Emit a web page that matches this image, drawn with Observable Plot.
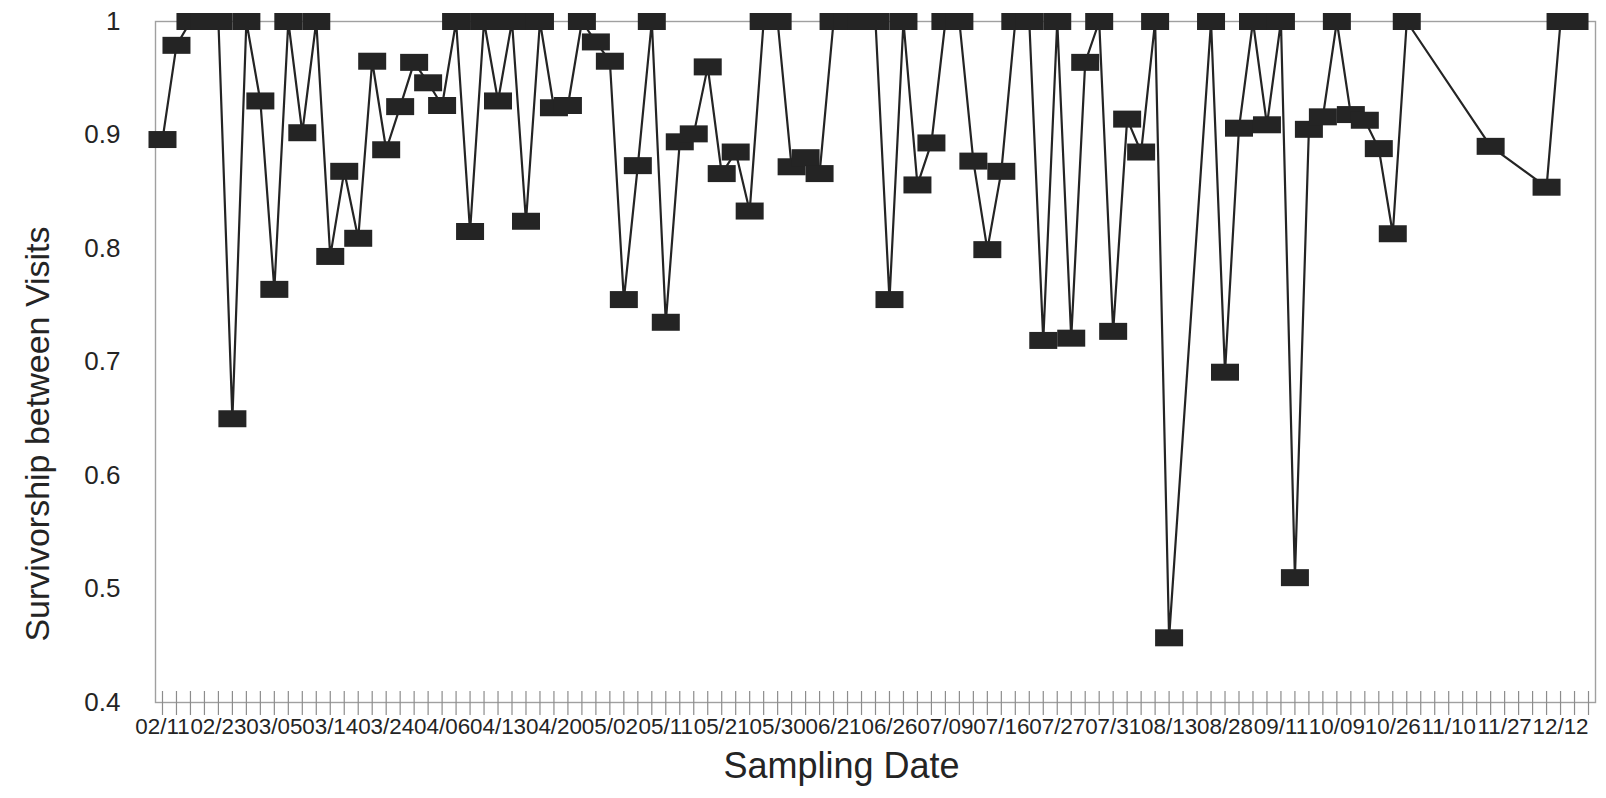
<!DOCTYPE html>
<html>
<head>
<meta charset="utf-8">
<script src="https://cdn.jsdelivr.net/npm/d3@7"></script>
<script src="https://cdn.jsdelivr.net/npm/@observablehq/plot@0.6"></script>
<style>
  html, body { margin: 0; padding: 0; background: #fff; }
  #chart svg { display: block; }
</style>
</head>
<body>
<div id="chart"></div>
<script>
// Number of sampling-date categories along the x axis (one tick each)
const nCategories = 103;

// Dates printed under every 4th category
const labelDates = [
  "02/11", "02/23", "03/05", "03/14", "03/24", "04/06", "04/13", "04/20",
  "05/02", "05/11", "05/21", "05/30", "06/21", "06/26", "07/09", "07/16",
  "07/27", "07/31", "08/13", "08/28", "09/11", "10/09", "10/26", "11/10",
  "11/27", "12/12"
];

// Survivorship between visits, one entry per category (null = no value)
const survivorship = [
  0.896, 0.979, 1, 1, 1, 0.650, 1, 0.930, 0.764, 1,
  0.902, 1, 0.793, 0.868, 0.809, 0.965, 0.887, 0.925, 0.964, 0.946,
  0.926, 1, 0.815, 1, 0.930, 1, 0.824, 1, 0.924, 0.926,
  1, 0.982, 0.965, 0.755, 0.873, 1, 0.735, 0.894, 0.901, 0.960,
  0.866, 0.885, 0.833, 1, 1, 0.872, 0.880, 0.866, 1, 1,
  1, 1, 0.755, 1, 0.856, 0.893, 1, 1, 0.877, 0.799,
  0.868, 1, 1, 0.719, 1, 0.721, 0.964, 1, 0.727, 0.914,
  0.885, 1, 0.457, null, null, 1, 0.691, 0.906, 1, 0.909,
  1, 0.510, 0.905, 0.916, 1, 0.918, 0.913, 0.888, 0.813, 1,
  null, null, null, null, null, 0.890, null, null, null, 0.854,
  1, 1, null
];

// Y axis ticks
const yTicks = [0.4, 0.5, 0.6, 0.7, 0.8, 0.9, 1];

const yTitle = "Survivorship between Visits";
const xTitle = "Sampling Date";

// ---- build the chart ----
const categories = d3.range(nCategories);
const labelled = categories.filter(i => i % 4 === 0);
const points = survivorship
  .map((v, i) => ({ i, v }))
  .filter(d => d.v != null);

const ink = "#242424";
const boxSymbol = {
  draw(ctx) {
    const w = 28, h = 17;
    ctx.rect(-w / 2, -h / 2, w, h);
  }
};

const chart = Plot.plot({
  width: 1606,
  height: 798,
  marginLeft: 155,
  marginRight: 11,
  marginTop: 21,
  marginBottom: 96,
  style: {
    fontFamily: "'Liberation Sans', Arial, Helvetica, sans-serif",
    color: ink,
    background: "#fff"
  },
  x: { type: "point", domain: categories, padding: 0.5, align: 0.5 },
  y: { domain: [yTicks[0], yTicks[yTicks.length - 1]] },
  marks: [
    Plot.frame({ stroke: "#a0a0a0", strokeWidth: 1.4 }),
    Plot.ruleX(categories, {
      x: d => d,
      y1: () => yTicks[0],
      y2: () => yTicks[0],
      insetTop: -11,
      insetBottom: -13,
      stroke: "#8c8c8c",
      strokeWidth: 1.2
    }),
    Plot.axisX(labelled, {
      tickSize: 0,
      tickPadding: 16,
      fontSize: 22.4,
      tickFormat: i => labelDates[i / 4],
      label: null
    }),
    Plot.axisY(yTicks, {
      tickSize: 0,
      tickPadding: 35,
      fontSize: 26,
      tickFormat: d => String(+d.toFixed(1)),
      label: null
    }),
    Plot.line(points, { x: "i", y: "v", stroke: ink, strokeWidth: 2.2 }),
    Plot.dot(points, { x: "i", y: "v", symbol: boxSymbol, fill: ink, stroke: "none" }),
    Plot.text([yTitle], {
      frameAnchor: "left",
      textAnchor: "middle",
      lineAnchor: "middle",
      rotate: -90,
      dx: -117,
      dy: 72,
      fontSize: 34,
      fill: ink
    }),
    Plot.text([xTitle], {
      frameAnchor: "bottom",
      textAnchor: "middle",
      lineAnchor: "middle",
      dx: -34,
      dy: 64,
      fontSize: 36,
      fill: ink
    })
  ]
});

document.getElementById("chart").appendChild(chart);
</script>
</body>
</html>
